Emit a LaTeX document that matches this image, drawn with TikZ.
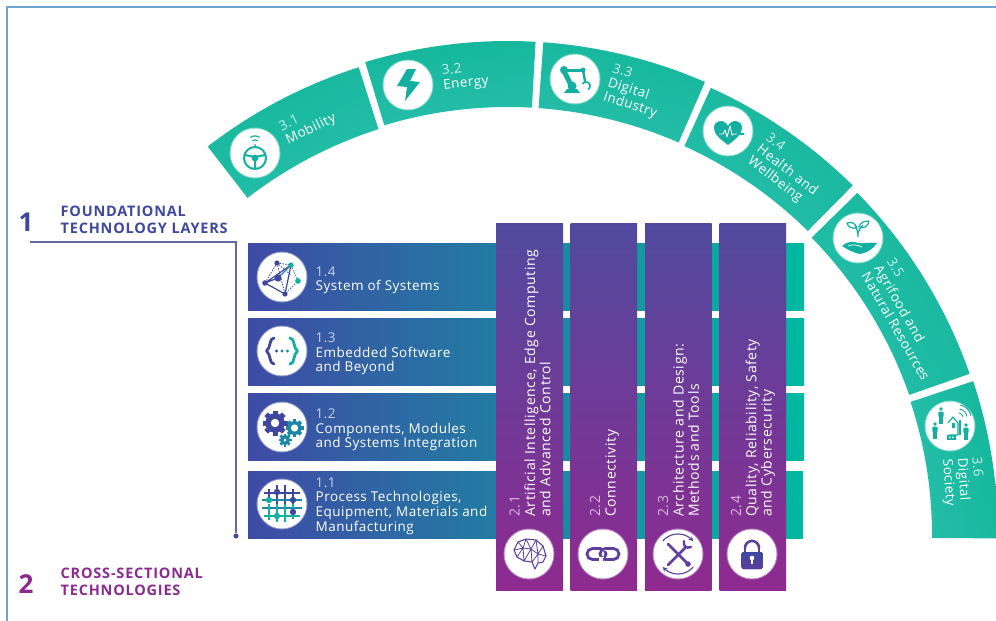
\documentclass[tikz,border=0pt]{standalone}
\usepackage{fontspec}
\setmainfont{Open Sans}
\definecolor{teal}{HTML}{1FBBA5}
\definecolor{tealA}{HTML}{14B79B}
\definecolor{tealB}{HTML}{27BEAB}
\definecolor{rowL}{HTML}{3E4BA5}
\definecolor{rowR}{HTML}{00B9A0}
\definecolor{colT}{HTML}{504A9E}
\definecolor{colB}{HTML}{8F2A90}
\definecolor{navy}{HTML}{3F479F}
\definecolor{plum}{HTML}{8B2B8F}
\definecolor{icoP}{HTML}{5C3F9E}
\definecolor{icoT}{HTML}{13AFA0}
\definecolor{icoB}{HTML}{1C86A8}
\definecolor{frameblue}{HTML}{6FA3D2}
\definecolor{ruleblue}{HTML}{6568A8}
\definecolor{numrow}{HTML}{C9D3EA}
\definecolor{numcol}{HTML}{D9B6DB}
\definecolor{numarc}{HTML}{CFF0EA}
\tikzset{
  x=1pt,y=-1pt,
  rowbar/.style={left color=rowL,right color=rowR,draw=none},
  colbar/.style={top color=colT,bottom color=colB,draw=none},
  iconc/.style={circle,fill=white,minimum size=49pt,inner sep=0pt,draw=white,draw opacity=.4,line width=2pt},
  lab/.style={text=white,align=left,inner sep=0pt,font=\fontsize{13.5}{14.7}\selectfont\addfontfeature{LetterSpace=3.5}},
  labc/.style={text=white,align=left,inner sep=0pt,font=\fontsize{14}{15.3}\selectfont\addfontfeature{LetterSpace=4.5}},
  head/.style={align=left,inner sep=0pt,anchor=west,font=\fontsize{14.5}{16.7}\selectfont\bfseries\addfontfeature{LetterSpace=5.5}},
  bignum/.style={inner sep=0pt,font=\fontsize{26}{26}\selectfont\bfseries},
  ln/.style={line width=#1,line cap=round,line join=round},
}
\newcommand\seg[4]{\pgfmathsetmacro\sa{(#1+#2)/2-90}\shade[left color=tealA,right color=tealB,shading angle=\sa] plot[domain=#1:#2,samples=40] ({508+#4*cos(\x)},{535-#4*sin(\x)}) -- plot[domain=#2:#1,samples=40] ({508+#3*cos(\x)},{535-#3*sin(\x)}) -- cycle;}
\newcommand\parc[6][]{\draw[#1] plot[domain=#5:#6,samples=16] ({#2+#4*cos(\x)},{#3-#4*sin(\x)});}
\newcommand\gear[5]{%
  \foreach \a in {0,45,90,135}{\fill[#4,rotate around={\a:(#1,#2)}] (#1-#3*.2,#2-#3) rectangle (#1+#3*.2,#2+#3);}
  \fill[#4] (#1,#2) circle[radius=#3*.78];
  \fill[white] (#1,#2) circle[radius=#5];}
\newcommand\person[4]{%
  \fill[#4] (#1,#2-#3*.78) circle[radius=#3*.2];
  \fill[#4,rounded corners=1pt] (#1-#3*.28,#2-#3*.5) rectangle (#1+#3*.28,#2+#3*.15);
  \fill[#4] (#1-#3*.18,#2) rectangle (#1+#3*.18,#2+#3*.85);}
\begin{document}
\begin{tikzpicture}
\useasboundingbox (0,0) rectangle (996,621);
\clip (0,0) rectangle (996,621);
\fill[white] (0,0) rectangle (996,621);
\draw[frameblue,line width=1.2pt] (7,621) -- (7,7) -- (996,7);

% arc
\seg{127.7}{107.7}{426}{491}
\seg{106.8}{86.8}{428}{494}
\seg{85.9}{66.5}{428}{494}
\seg{65.6}{45.4}{427}{491}
\seg{44.4}{19.25}{425}{489}
\seg{18.3}{-0.4}{424}{490}

% rows
\shade[rowbar] (248,243) rectangle (804,310);
\shade[rowbar] (248,318) rectangle (804,385);
\shade[rowbar] (248,393) rectangle (804,460);
\shade[rowbar] (248,471) rectangle (803,538);
% columns
\shade[colbar] (496,223.5) rectangle (563,590);
\shade[colbar] (570.7,223.5) rectangle (637,590);
\shade[colbar] (645,223.5) rectangle (711.5,590);
\shade[colbar] (719.5,223.5) rectangle (786,590);

% headings
\node[bignum,text=navy] (n1) at (26,222) {1};
\node[bignum,text=plum] (n2) at (26,584) {2};
\node[head,text=navy] (h1) at (60.5,219.5) {FOUNDATIONAL\\TECHNOLOGY LAYERS};
\node[head,text=plum] (h2) at (60.5,581.5) {CROSS-SECTIONAL\\TECHNOLOGIES};
\coordinate (ra) at (30,242);
\coordinate (rb) at (236,242);
\coordinate (rc) at (236,536);
\node[circle,fill=navy,minimum size=5pt,inner sep=0pt] (rdot) at (rc) {};
\draw[ruleblue,line width=1.2pt] (ra) -- (rb) -- (rdot);

% icon discs
\foreach \n/\p in {i14/{282,277},i13/{282,351},i12/{282,427},i11/{282,504},
  i21/{529,554},i22/{603,554},i23/{678,554},i24/{752,554},
  i31/{255,153},i32/{408,85},i33/{575,79},i34/{728,131},i35/{858,238},i36/{950,426}}{
  \node[iconc] (\n) at (\p) {};
}

% row labels
\node[lab,anchor=west] (l14) at (315.5,280.3) {\textcolor{numrow}{1.4}\\System of Systems};
\node[lab,anchor=west] (l13) at (315.5,354) {\textcolor{numrow}{1.3}\\Embedded Software\\and Beyond};
\node[lab,anchor=west] (l12) at (315.5,430) {\textcolor{numrow}{1.2}\\Components, Modules\\and Systems Integration};
\node[lab,anchor=west] (l11) at (315.5,506) {\textcolor{numrow}{1.1}\\Process Technologies,\\Equipment, Materials and\\Manufacturing};
% column labels
\node[labc,anchor=west,rotate=90] (l21) at (530,517) {\textcolor{numcol}{2.1}\\Artificial Intelligence, Edge Computing\\and Advanced Control};
\node[labc,anchor=west,rotate=90] (l22) at (604.5,517) {\textcolor{numcol}{2.2}\\Connectivity};
\node[labc,anchor=west,rotate=90] (l23) at (678.5,517) {\textcolor{numcol}{2.3}\\Architecture and Design:\\Methods and Tools};
\node[labc,anchor=west,rotate=90] (l24) at (753,517) {\textcolor{numcol}{2.4}\\Quality, Reliability, Safety\\and Cybersecurity};
% arc labels
\node[lab,anchor=west,rotate=26] (l31) at (283.5,135) {\textcolor{numarc}{3.1}\\Mobility};
\node[lab,anchor=west,rotate=6] (l32) at (442.5,79) {\textcolor{numarc}{3.2}\\Energy};
\node[lab,anchor=west,rotate=-18] (l33) at (608,83) {\textcolor{numarc}{3.3}\\Digital\\Industry};
\node[lab,anchor=west,rotate=-38] (l34) at (758,148) {\textcolor{numarc}{3.4}\\Health and\\Wellbeing};
\node[lab,anchor=west,rotate=-60] (l35) at (878,266) {\textcolor{numarc}{3.5}\\Agrifood and\\Natural Resources};
\node[lab,anchor=west,rotate=-86] (l36) at (961,458) {\textcolor{numarc}{3.6}\\Digital\\Society};

% --- icons ---
% 1.4 network
\begin{scope}[shift={(i14.center)}]
  \draw[navy,line width=.8pt,dash pattern=on 1.5pt off 1.2pt] (-5,-14) -- (-17,6) (-5,-14) -- (9,-12) (-5,-14) -- (3,17) (-5,-14) -- (9,-2);
  \draw[icoB,line width=.8pt,dash pattern=on 1.5pt off 1.2pt] (9,-12) -- (16,4) -- (3,17);
  \draw[navy,line width=1.2pt] (-17,6) -- (3,17) -- (9,-12) -- cycle (-4,1) -- (-17,6);
  \draw[icoB,line width=1.4pt] (-4,1) -- (9,-12);
  \fill[navy] (-5,-14) circle[radius=2.6] (-17,6) circle[radius=2.8] (-4,1) circle[radius=3.6] (3,17) circle[radius=2.6];
  \fill[icoT] (9,-12) circle[radius=2.6] (16,4) circle[radius=2.8];
\end{scope}
% 1.3 braces
\begin{scope}[shift={(i13.center)}]
  \draw[navy,ln=2.8pt] (-8,-13) .. controls (-13,-13) and (-11,-3) .. (-15.5,0) .. controls (-11,3) and (-13,13) .. (-8,13);
  \draw[icoT,ln=2.8pt] (8,-13) .. controls (13,-13) and (11,-3) .. (15.5,0) .. controls (11,3) and (13,13) .. (8,13);
  \fill[navy] (-5.5,0) circle[radius=1.7];
  \fill[icoB] (0,0) circle[radius=1.7];
  \fill[icoB] (5.5,0) circle[radius=1.7];
\end{scope}
% 1.2 gears
\begin{scope}[shift={(i12.center)}]
  \gear{-7}{-4}{12.5}{navy}{4.2}
  \gear{12.5}{1}{9}{icoB}{3.6}
  \gear{3}{13}{6.5}{icoB}{1.5}
\end{scope}
% 1.1 process grid
\begin{scope}[shift={(i11.center)}]
  \draw[navy,line width=1.1pt] (-13,-15) -- (-13,-1) (-5,-19) -- (-5,0) (3,-19) -- (3,0) (11,-15) -- (11,0);
  \draw[navy,line width=1.1pt] (-18,-11) -- (18,-11);
  \draw[icoB,line width=1.1pt] (-20,-4) -- (20,-4);
  \draw[icoB,line width=1.1pt] (-20,4) -- (20,4);
  \draw[icoT,line width=1.1pt] (-18,12) -- (18,12) (-13,0) -- (-13,16) (-5,0) -- (-5,18) (3,0) -- (3,18) (11,0) -- (11,15);
  \fill[navy] (-5,-12) circle[radius=3.2] (11,-4) circle[radius=3.2] (11,8) circle[radius=3.2];
  \fill[icoT] (-13,-4) circle[radius=3.2] (-5,12) circle[radius=3.2];
\end{scope}
% 2.1 brain
\begin{scope}[shift={(i21.center)}]
  \draw[icoP,ln=1.1pt] (-15,-4) -- (-11,-12) -- (-3,-15) -- (7,-14) -- (14,-8) -- (17,2) -- (14,8) -- (9,9) -- (6,15) -- (3,8) -- (-5,7) -- (-12,3) -- cycle;
  \draw[icoP,ln=.8pt] (-15,-4) -- (-6,-6) -- (-11,-12) (-6,-6) -- (-3,-15) -- (2,-5) -- (7,-14) -- (9,0) -- (14,-8) (-6,-6) -- (2,-5) -- (9,0) -- (17,2) (-12,3) -- (-6,-6) -- (-5,7) -- (2,-5) -- (3,8) -- (9,0) -- (9,9);
\end{scope}
% 2.2 chain
\begin{scope}[shift={(i22.center)}]
  \draw[icoP,line width=2.8pt,rounded corners=5.5pt] (-16,-5.5) rectangle (3,5.5);
  \draw[white,line width=5pt] (-1,-5.5) -- (5,-5.5);
  \draw[icoP,line width=2.8pt,rounded corners=5.5pt] (-3,-5.5) rectangle (16,5.5);
  \draw[white,line width=5pt] (-5,5.5) -- (0.5,5.5);
  \draw[icoP,line width=2.8pt] (-7,5.5) -- (-4.5,5.5);
  \draw[icoP,line width=2.8pt] (-0.5,5.5) -- (1,5.5);
\end{scope}
% 2.3 tools
\begin{scope}[shift={(i23.center)}]
  \parc[icoP,line width=1.1pt,-stealth]{0}{0}{20}{140}{40}
  \parc[icoP,line width=1.1pt,-stealth]{0}{0}{20}{-40}{-140}
  \draw[icoP,line width=2.8pt,line cap=round] (-10,-10) -- (10,10);
  \fill[icoP] (10,10) circle[radius=2.8];
  \draw[icoP,line width=2.6pt,line cap=round] (-10,11) -- (7,-6);
  \draw[icoP,line width=2.4pt,line cap=round] (6,-13) .. controls (5,-8) and (8,-5) .. (13,-7);
\end{scope}
% 2.4 lock
\begin{scope}[shift={(i24.center)}]
  \parc[icoP,line width=2.6pt]{0}{-6}{7}{0}{180}
  \draw[icoP,line width=2.6pt] (-7,-6) -- (-7,0) (7,-6) -- (7,0);
  \fill[top color=navy,bottom color=icoP,rounded corners=1.5pt] (-10.5,-2) rectangle (10.5,15);
  \fill[white] (0,4) circle[radius=2.3];
  \fill[white] (-1,4) rectangle (1,10);
\end{scope}
% 3.1 wheel
\begin{scope}[shift={(i31.center)}]
  \draw[icoT,line width=2pt] (0,5) circle[radius=11];
  \fill[icoT] (0,5) circle[radius=3.4];
  \draw[icoT,line width=2pt] (-10,2) -- (0,4) -- (10,2) (0,5) -- (0,15);
  \parc[icoT,line width=1.2pt]{0}{-9}{4}{50}{130}
  \parc[icoT,line width=1.2pt]{0}{-9}{8}{55}{125}
  \fill[icoT] (0,-8) circle[radius=1];
\end{scope}
% 3.2 bolt
\begin{scope}[shift={(i32.center)}]
  \fill[icoT] (-1,-16) -- (-11,1) -- (-1,2) -- (-3,16) -- (12,-3) -- (2,-4) -- (8,-16) -- cycle;
\end{scope}
% 3.3 robot arm
\begin{scope}[shift={(i33.center)}]
  \draw[icoT,line width=3pt,line cap=round] (-11,-9) -- (8,-9);
  \draw[icoT,line width=5pt,line cap=round] (-11,-8) -- (-3,8);
  \draw[icoT,line width=2.4pt,line cap=round] (8,-9) -- (10,2);
  \fill[icoT] (-11,-9) circle[radius=4];
  \fill[icoT] (8,-9) circle[radius=2.5];
  \fill[icoT] (-3,7) circle[radius=4.5];
  \fill[icoT] (-11,14) -- (-8,10) -- (2,10) -- (5,14) -- cycle;
  \parc[icoT,line width=1.6pt]{11}{7}{4}{-60}{150}
\end{scope}
% 3.4 heart
\begin{scope}[shift={(i34.center)}]
  \fill[icoT] (0,14) .. controls (-8,8) and (-14,3) .. (-14,-3) .. controls (-14,-12) and (-3,-12) .. (0,-5) .. controls (3,-12) and (14,-12) .. (14,-3) .. controls (14,3) and (8,8) .. (0,14) -- cycle;
  \draw[white,line width=.9pt,line join=round] (-9,3) -- (-5,3) -- (-3,-1) -- (-1,6) -- (2,-5) -- (4,4) -- (6,3) -- (9,3);
  \draw[icoT,line width=1.2pt] (9,3) -- (16,3);
\end{scope}
% 3.5 plant
\begin{scope}[shift={(i35.center)}]
  \draw[icoT,line width=1.3pt] (0,-1) .. controls (0,-7) and (-1,-9) .. (-3,-12);
  \draw[icoT,line width=1.3pt] (0,-5) .. controls (1,-8) and (3,-11) .. (5,-13);
  \draw[icoT,line width=1.2pt,line join=round] (-1,-10) .. controls (-3,-16) and (-7,-16) .. (-11,-15) .. controls (-10,-11) and (-6,-9) .. (-1,-10) -- cycle;
  \draw[icoT,line width=1.2pt,line join=round] (1,-11) .. controls (2,-16) and (7,-17) .. (11,-17) .. controls (10,-12) and (7,-9) .. (1,-11) -- cycle;
  \fill[icoT] (-16,8) .. controls (-10,3) and (-5,3) .. (0,5) .. controls (4,6) and (10,4) .. (19,5) .. controls (14,12) and (8,15) .. (2,16) .. controls (-4,15) and (-10,12) .. (-16,8) -- cycle;
  \draw[white,line width=.7pt] (-10,8) .. controls (-5,6) and (0,7) .. (4,9);
\end{scope}
% 3.6 society
\begin{scope}[shift={(i36.center)}]
  \person{-9}{-10}{9}{icoT}
  \person{-15}{5}{9}{icoT}
  \person{16}{6}{9}{icoT}
  \draw[icoT,line width=1.2pt,line join=round] (-2,-3) -- (3,-9) -- (8,-3) -- (8,9) -- (-1,9);
  \draw[icoT,line width=1.2pt] (10,-6) -- (10,9);
  \fill[icoT] (-3,9) rectangle (6,14);
  \fill[white] (-1,10.5) rectangle (0.6,12) (2,10.5) rectangle (3.6,12);
  \fill[icoT] (2,-3) rectangle (4.5,2);
  \parc[icoT,line width=.9pt]{8}{-8}{5}{10}{80}
  \parc[icoT,line width=.9pt]{8}{-8}{9}{10}{80}
  \parc[icoT,line width=.9pt]{8}{-8}{13}{10}{80}
\end{scope}
\end{tikzpicture}
\end{document}
